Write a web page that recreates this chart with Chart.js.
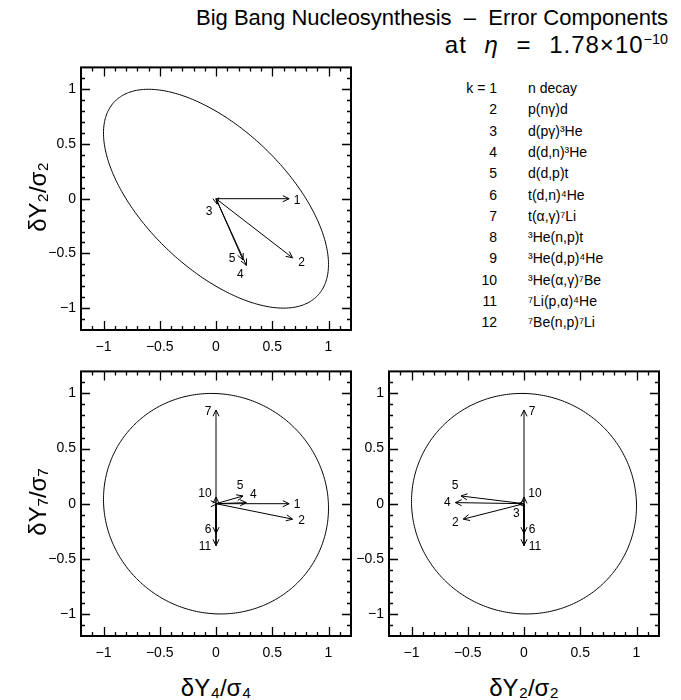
<!DOCTYPE html>
<html>
<head>
<meta charset="utf-8">
<script src="https://cdn.jsdelivr.net/npm/chart.js@4.4.1/dist/chart.umd.min.js"></script>
<style>
body { margin: 0; width: 681px; height: 700px; background: #fff; position: relative; overflow: hidden;
       font-family: "Liberation Sans", Arial, sans-serif; color: #000; }
canvas { position: absolute; }
.t { position: absolute; white-space: nowrap; line-height: 1; }
.ax { font-size: 24px; transform: translate(-50%, -50%); }
.ay { font-size: 24px; transform: translate(-50%, -50%) rotate(-90deg); }
sup { font-size: 60%; vertical-align: 0.6em; line-height: 0; letter-spacing: 0; }
</style>
</head>
<body>
<div class="t" style="right:13px; top:7px; font-size:22px">Big Bang Nucleosynthesis &nbsp;–&nbsp; Error Components</div>
<div class="t" style="right:13px; top:33px; font-size:24px; letter-spacing:1px; word-spacing:10px">at <i>η</i> = 1.78×10<sup>−10</sup></div>

<canvas id="tl" width="340" height="300" style="left:20px; top:54px"></canvas>
<canvas id="bl" width="340" height="302" style="left:20px; top:358px"></canvas>
<canvas id="br" width="330" height="302" style="left:340px; top:358px"></canvas>

<div class="t ay" style="left:38px; top:197px">δY₂/σ₂</div>
<div class="t ay" style="left:38px; top:502px">δY₇/σ₇</div>
<div class="t ax" style="left:216px; top:688px">δY₄/σ₄</div>
<div class="t ax" style="left:524px; top:688px">δY₂/σ₂</div>

<div id="legend"></div>

<script>
// reactions k = 1..12
const kValues = [1, 2, 3, 4, 5, 6, 7, 8, 9, 10, 11, 12];
const reactions = ['n decay', 'p(nγ)d', 'd(pγ)³He', 'd(d,n)³He', 'd(d,p)t', 't(d,n)⁴He',
                   't(α,γ)⁷Li', '³He(n,p)t', '³He(d,p)⁴He', '³He(α,γ)⁷Be', '⁷Li(p,α)⁴He', '⁷Be(n,p)⁷Li'];

// error components (δY/σ) of each reaction
const dY2 = [0, -0.54, -0.05, -0.61, -0.56, 0, 0, 0, 0, 0, 0, 0];
const dY4 = [0.65, 0.68, 0.01, 0.27, 0.24, 0, 0, 0, 0, 0, 0, 0];
const dY7 = [0, -0.14, 0, 0.01, 0.07, -0.27, 0.85, 0, 0, 0.06, -0.38, 0];

// correlation coefficients of the 1 sigma ellipses
const corr42 = -0.6;
const corr47 = -0.04;
const corr27 = -0.02;

const axisMin = -1.2, axisMax = 1.2;

// where each arrow label sits relative to its arrow head (px)
const labelOffsets = {
    tl: { 1: [8, 2], 2: [9, 5], 3: [-8, 8], 4: [-6, 9], 5: [-11, -1] },
    bl: { 1: [8, 1], 2: [9, 2], 4: [7, -8], 5: [-3, -10], 6: [-8, -4], 7: [-8, 2], 10: [-11, -3], 11: [-11, 1] },
    br: { 2: [-8, 4], 3: [-2, 10], 4: [-8, 0], 5: [-6, -10], 6: [8, -4], 7: [8, 2], 10: [11, -3], 11: [11, 1] }
};

function fmt(v) {
    return v < 0 ? '\u2212' + Math.abs(v) : String(v);
}

// frame, inward ticks and correlation ellipse
const framePlugin = {
    id: 'frame',
    beforeDatasetsDraw(chart, args, opts) {
        const { ctx, scales: { x, y } } = chart;
        const rho = opts.rho;
        ctx.save();
        ctx.strokeStyle = '#000';
        ctx.lineWidth = 1;
        ctx.beginPath();
        for (let i = 0; i <= 360; i++) {
            const t = i * Math.PI / 180;
            const ex = Math.cos(t);
            const ey = rho * Math.cos(t) + Math.sqrt(1 - rho * rho) * Math.sin(t);
            const px = x.getPixelForValue(ex), py = y.getPixelForValue(ey);
            if (i === 0) ctx.moveTo(px, py); else ctx.lineTo(px, py);
        }
        ctx.stroke();
        ctx.restore();
    },
    afterDraw(chart) {
        const { ctx, chartArea: a, scales: { x, y } } = chart;
        ctx.save();
        ctx.strokeStyle = '#000';
        ctx.lineWidth = 1.3;
        ctx.beginPath();
        for (let i = -11; i <= 11; i++) {
            const len = i % 5 === 0 ? 9 : 4;
            const px = Math.round(x.getPixelForValue(i / 10)) + 0.5;
            const py = Math.round(y.getPixelForValue(i / 10)) + 0.5;
            ctx.moveTo(px, a.bottom); ctx.lineTo(px, a.bottom - len);
            ctx.moveTo(px, a.top); ctx.lineTo(px, a.top + len);
            ctx.moveTo(a.left, py); ctx.lineTo(a.left + len, py);
            ctx.moveTo(a.right, py); ctx.lineTo(a.right - len, py);
        }
        ctx.stroke();
        ctx.lineWidth = 2;
        ctx.strokeRect(a.left, a.top, a.width, a.height);
        ctx.restore();
    }
};

// open arrow heads and k labels
const arrowPlugin = {
    id: 'arrows',
    afterDatasetsDraw(chart, args, opts) {
        const { ctx } = chart;
        ctx.save();
        ctx.strokeStyle = '#000';
        ctx.fillStyle = '#000';
        ctx.lineWidth = 1;
        ctx.font = '12px "Liberation Sans", Arial, sans-serif';
        ctx.textAlign = 'center';
        ctx.textBaseline = 'middle';
        chart.data.datasets.forEach((ds, i) => {
            const pts = chart.getDatasetMeta(i).data;
            const p0 = pts[0], p1 = pts[1];
            const ang = Math.atan2(p1.y - p0.y, p1.x - p0.x);
            const L = 7, h = 0.45;
            ctx.beginPath();
            ctx.moveTo(p1.x - L * Math.cos(ang - h), p1.y - L * Math.sin(ang - h));
            ctx.lineTo(p1.x, p1.y);
            ctx.lineTo(p1.x - L * Math.cos(ang + h), p1.y - L * Math.sin(ang + h));
            ctx.stroke();
            const off = opts.offsets[ds.k];
            if (off) ctx.fillText(String(ds.k), p1.x + off[0], p1.y + off[1]);
        });
        ctx.restore();
    }
};

function makePanel(id, xs, ys, rho, yAxisWidth, padRight) {
    const datasets = [];
    kValues.forEach((k, i) => {
        if (xs[i] === 0 && ys[i] === 0) return;
        datasets.push({
            k: k,
            data: [{ x: 0, y: 0 }, { x: xs[i], y: ys[i] }],
            showLine: true,
            borderColor: '#000',
            borderWidth: 1,
            pointRadius: 0,
            tension: 0
        });
    });
    const tickFont = { family: '"Liberation Sans", Arial, sans-serif', size: 14 };
    return new Chart(document.getElementById(id), {
        type: 'scatter',
        data: { datasets: datasets },
        options: {
            responsive: false,
            animation: false,
            layout: { padding: { top: 10, right: padRight, left: 0, bottom: 0 } },
            plugins: {
                legend: { display: false },
                tooltip: { enabled: false },
                frame: { rho: rho },
                arrows: { offsets: labelOffsets[id] }
            },
            scales: {
                x: {
                    type: 'linear', min: axisMin, max: axisMax,
                    grid: { display: false, drawTicks: false },
                    border: { display: false },
                    ticks: { stepSize: 0.5, includeBounds: false, color: '#000', font: tickFont, padding: 9,
                             maxRotation: 0, callback: v => fmt(v) },
                    afterFit: s => { s.height = 24; }
                },
                y: {
                    type: 'linear', min: axisMin, max: axisMax,
                    grid: { display: false, drawTicks: false },
                    border: { display: false },
                    ticks: { stepSize: 0.5, includeBounds: false, color: '#000', font: tickFont, padding: 5,
                             callback: v => fmt(v) },
                    afterFit: s => { s.width = yAxisWidth; }
                }
            }
        },
        plugins: [framePlugin, arrowPlugin]
    });
}

makePanel('tl', dY4, dY2, corr42, 61, 9);
makePanel('bl', dY4, dY7, corr47, 61, 9);
makePanel('br', dY2, dY7, corr27, 49, 11);

// reaction list
const legend = document.getElementById('legend');
kValues.forEach((k, i) => {
    const top = 81 + i * 21.3;
    const num = document.createElement('div');
    num.className = 't';
    num.style.cssText = 'right:' + (681 - 497) + 'px; top:' + top + 'px; font-size:14px';
    num.textContent = (i === 0 ? 'k = ' : '') + k;
    legend.appendChild(num);
    const name = document.createElement('div');
    name.className = 't';
    name.style.cssText = 'left:528px; top:' + top + 'px; font-size:14px';
    name.textContent = reactions[i];
    legend.appendChild(name);
});
</script>
</body>
</html>
